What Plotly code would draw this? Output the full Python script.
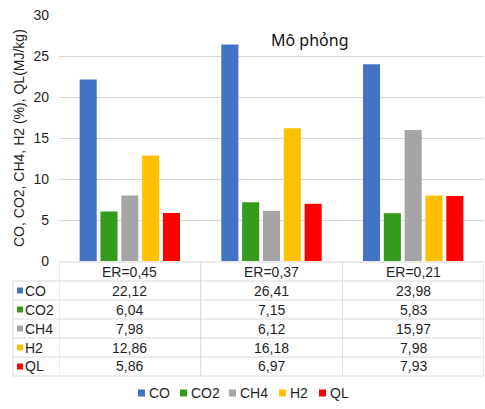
import plotly.graph_objects as go

# ---- data ----
categories = ["ER=0,45", "ER=0,37", "ER=0,21"]
series_names = ["CO", "CO2", "CH4", "H2", "QL"]
co = [22.12, 26.41, 23.98]
co2 = [6.04, 7.15, 5.83]
ch4 = [7.98, 6.12, 15.97]
h2 = [12.86, 16.18, 7.98]
ql = [5.86, 6.97, 7.93]
y_tick_values = [0, 5, 10, 15, 20, 25, 30]

series_values = [co, co2, ch4, h2, ql]
colors = ["#4472C4", "#359B1B", "#A5A5A5", "#FFC000", "#FF0000"]

# ---- geometry (pixels) ----
W, H = 485, 409
ML, MR, MT, MB = 59, 1, 15, 148
PW, PH = W - ML - MR, H - MT - MB

FONT = "Liberation Sans, Arial, sans-serif"
TXT = "#1f1f1f"
GRID = "#d9d9d9"


def yp(px):
    """pixel row -> paper y"""
    return (H - MB - px) / PH


def xp(px):
    """pixel column -> paper x"""
    return (px - ML) / PW


def fmt(v):
    return f"{v:.2f}".replace(".", ",")


fig = go.Figure()
for name, vals, col in zip(series_names, series_values, colors):
    fig.add_trace(go.Bar(
        x=categories, y=vals, name=name,
        marker=dict(color=col, line=dict(width=0)),
        showlegend=False,
    ))

shapes = []
annotations = []

# ---- data table below the plot ----
row_h = 19
top = H - MB + 1          # header top line
n_rows = len(series_names)
line = dict(color=GRID, width=1)

# vertical lines at category boundaries
for b in [i - 0.5 for i in range(len(categories) + 1)]:
    shapes.append(dict(type="line", xref="x", yref="paper",
                       x0=b, x1=b, y0=yp(top), y1=yp(top + row_h * (n_rows + 1)),
                       line=line))
# left edge of the row-label column
shapes.append(dict(type="line", xref="paper", yref="paper",
                   x0=xp(13), x1=xp(13), y0=yp(top + row_h), y1=yp(top + row_h * (n_rows + 1)),
                   line=line))
# horizontal lines
shapes.append(dict(type="line", xref="paper", yref="paper",
                   x0=0, x1=1, y0=yp(top), y1=yp(top), line=line))
for r in range(1, n_rows + 2):
    y = yp(top + row_h * r)
    shapes.append(dict(type="line", xref="paper", yref="paper",
                       x0=xp(13), x1=1, y0=y, y1=y, line=line))

# header row
for c in categories:
    annotations.append(dict(text=c, xref="x", yref="paper", x=c,
                            y=yp(top + row_h / 2), showarrow=False,
                            xanchor="center", yanchor="middle",
                            font=dict(size=14, color=TXT, family=FONT)))

# body rows
for r, (name, vals, col) in enumerate(zip(series_names, series_values, colors), start=1):
    yc = top + row_h * r + row_h / 2
    shapes.append(dict(type="rect", xref="paper", yref="paper",
                       x0=xp(17), x1=xp(23), y0=yp(yc - 3), y1=yp(yc + 3),
                       fillcolor=col, line=dict(width=0)))
    annotations.append(dict(text=name, xref="paper", yref="paper", x=xp(23),
                            y=yp(yc), showarrow=False, xanchor="left", yanchor="middle",
                            font=dict(size=14, color=TXT, family=FONT)))
    for c, v in zip(categories, vals):
        annotations.append(dict(text=fmt(v), xref="x", yref="paper", x=c,
                                y=yp(yc), showarrow=False,
                                xanchor="center", yanchor="middle",
                                font=dict(size=14, color=TXT, family=FONT)))

# ---- legend row ----
legend_y = 393
text_w = {"CO": 21, "CO2": 28, "CH4": 29, "H2": 19, "QL": 21}
sq, gap_in, gap_out = 7, 2, 12
total = sum(sq + gap_in + text_w[n] for n in series_names) + gap_out * (len(series_names) - 1)
x = (W - total) / 2 + 1
for name, col in zip(series_names, colors):
    shapes.append(dict(type="rect", xref="paper", yref="paper",
                       x0=xp(x), x1=xp(x + sq), y0=yp(legend_y - 3.5), y1=yp(legend_y + 3.5),
                       fillcolor=col, line=dict(width=0)))
    annotations.append(dict(text=name, xref="paper", yref="paper", x=xp(x + sq + gap_in),
                            y=yp(legend_y), showarrow=False, xanchor="left", yanchor="middle",
                            font=dict(size=14, color=TXT, family=FONT)))
    x += sq + gap_in + text_w[name] + gap_out

# ---- titles ----
annotations.append(dict(text="Mô phỏng", xref="paper", yref="paper",
                        x=xp(310), y=yp(40), showarrow=False,
                        xanchor="center", yanchor="middle",
                        font=dict(size=16, color="#111111", family="Noto Sans, sans-serif")))
annotations.append(dict(text="CO, CO2, CH4, H2 (%), QL(MJ/kg)", xref="paper", yref="paper",
                        x=xp(19), y=0.5, textangle=-90, showarrow=False,
                        xanchor="center", yanchor="middle",
                        font=dict(size=14, color=TXT, family=FONT)))

fig.update_layout(
    width=W, height=H,
    margin=dict(l=ML, r=MR, t=MT, b=MB),
    paper_bgcolor="white", plot_bgcolor="white",
    barmode="group", bargap=0.265, bargroupgap=0.18,
    shapes=shapes, annotations=annotations,
    showlegend=False,
    font=dict(family=FONT, color=TXT, size=14),
)
fig.update_xaxes(range=[-0.5, len(categories) - 0.5], showticklabels=False,
                 showgrid=False, zeroline=False, showline=False, ticks="")
fig.update_yaxes(range=[0, 30], tickvals=y_tick_values, showgrid=True, gridcolor=GRID,
                 gridwidth=1, zeroline=False, showline=False, ticks="",
                 ticklabelstandoff=9, tickfont=dict(size=14, color=TXT, family=FONT))

fig.write_html("out.html")
